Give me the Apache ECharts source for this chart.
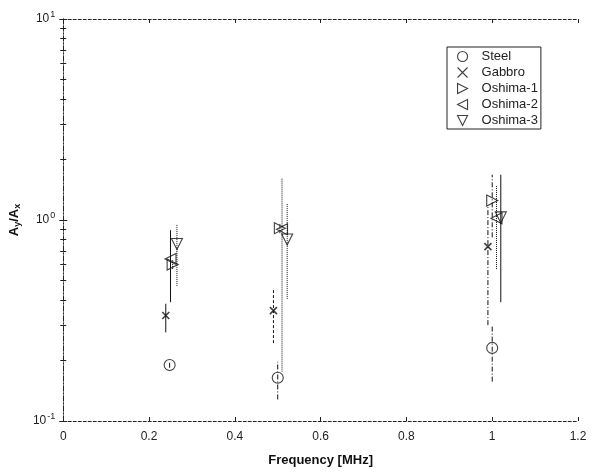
<!DOCTYPE html>
<html>
<head>
<meta charset="utf-8">
<script src="https://cdn.jsdelivr.net/npm/echarts@6/dist/echarts.min.js"></script>
<style>
  html, body { margin: 0; padding: 0; background: #fff; }
  #chart { width: 591px; height: 472px; }
</style>
</head>
<body>
<div id="chart"></div>
<script>
// values (x = frequency, y = Ay/Ax, lo/hi = error bar ends)
const seriesNames = ['Steel', 'Gabbro', 'Oshima-1', 'Oshima-2', 'Oshima-3'];

const steelX = [0.248, 0.50, 1.0];
const steelY = [0.19, 0.164, 0.231];
const steelLo = [0.184, 0.128, 0.157];
const steelHi = [0.197, 0.197, 0.30];

const gabbroX = [0.239, 0.49, 0.99];
const gabbroY = [0.335, 0.354, 0.737];
const gabbroLo = [0.276, 0.244, 0.30];
const gabbroHi = [0.383, 0.459, 1.18];

const oshima1X = [0.255, 0.505, 1.0];
const oshima1Y = [0.60, 0.91, 1.25];
const oshima1Lo = [0.57, 0.86, 0.82];
const oshima1Hi = [0.63, 0.96, 1.68];

const oshima2X = [0.25, 0.51, 1.01];
const oshima2Y = [0.64, 0.90, 1.02];
const oshima2Lo = [0.39, 0.176, 0.57];
const oshima2Hi = [0.89, 1.62, 1.48];

const oshima3X = [0.265, 0.522, 1.02];
const oshima3Y = [0.76, 0.80, 1.03];
const oshima3Lo = [0.47, 0.405, 0.39];
const oshima3Hi = [0.95, 1.20, 1.68];

const xTicks = [0, 0.2, 0.4, 0.6, 0.8, 1, 1.2];

// styling
const dashes = {
  solid: null,
  dashdot: [5, 2, 1, 2],
  dashed: [3, 2],
  dotted: [1, 1]
};
const errStyle = {
  'Steel': ['dashdot', 'dashdot', 'dashdot'],
  'Gabbro': ['solid', 'dashed', 'dashdot'],
  'Oshima-1': ['dotted', 'dotted', 'dashdot'],
  'Oshima-2': ['solid', 'dotted', 'dotted'],
  'Oshima-3': ['dotted', 'dotted', 'solid']
};
const symbols = {
  'Steel': 'circle',
  'Gabbro': 'path://M0,0L10,10M10,0L0,10',
  'Oshima-1': 'path://M0,0L10,5L0,10Z',
  'Oshima-2': 'path://M10,0L0,5L10,10Z',
  'Oshima-3': 'path://M0,0L10,0L5,10Z'
};

const groups = [
  [steelX, steelY, steelLo, steelHi],
  [gabbroX, gabbroY, gabbroLo, gabbroHi],
  [oshima1X, oshima1Y, oshima1Lo, oshima1Hi],
  [oshima2X, oshima2Y, oshima2Lo, oshima2Hi],
  [oshima3X, oshima3Y, oshima3Lo, oshima3Hi]
];

const chart = echarts.init(document.getElementById('chart'));

const series = [];
groups.forEach(([xs, ys, los, his], i) => {
  const name = seriesNames[i];
  series.push({
    type: 'custom',
    name: name + ' err',
    silent: true,
    clip: true,
    data: xs.map((x, k) => [x, los[k], his[k], k]),
    renderItem: (params, api) => {
      const p1 = api.coord([api.value(0), api.value(1)]);
      const p2 = api.coord([api.value(0), api.value(2)]);
      const kind = errStyle[name][api.value(3)];
      return {
        type: 'line',
        shape: { x1: p1[0], y1: p1[1], x2: p2[0], y2: p2[1] },
        style: { stroke: '#111', lineWidth: 1, lineDash: dashes[kind] }
      };
    },
    z: 2
  });
  series.push({
    type: 'scatter',
    name: name,
    symbol: symbols[name],
    symbolSize: name === 'Gabbro' ? 7 : 11,
    itemStyle: {
      color: 'rgba(255,255,255,0)',
      borderColor: '#111',
      borderWidth: name === 'Gabbro' ? 1.6 : 1.1
    },
    data: xs.map((x, k) => [x, ys[k]]),
    z: 3
  });
});

const fontFam = 'Liberation Sans, Arial, sans-serif';
const axisFont = { color: '#222', fontSize: 12, fontFamily: fontFam };
const frameLine = { show: true, lineStyle: { color: '#222', width: 1, type: [3, 2] } };
const frameLineY = { show: true, lineStyle: { color: '#222', width: 1, type: [5, 2, 1, 2] } };

chart.setOption({
  backgroundColor: '#fff',
  animation: false,
  grid: { left: 61, right: 13, top: 19, bottom: 45, containLabel: false },
  legend: {
    orient: 'vertical',
    left: 447,
    top: 47,
    data: seriesNames.map(n => ({ name: n, icon: symbols[n] })),
    itemWidth: 10,
    itemHeight: 10,
    itemGap: 3,
    padding: [3, 3, 2, 10],
    borderColor: '#222',
    borderWidth: 1,
    textStyle: { color: '#222', fontSize: 13, fontFamily: fontFam, padding: [0, 0, 0, 9] },
    itemStyle: { color: 'rgba(255,255,255,0)', borderColor: '#111', borderWidth: 1.1 },
    selectedMode: false
  },
  xAxis: [
    {
      type: 'value',
      min: 0,
      max: 1.2,
      interval: 0.2,
      position: 'bottom',
      name: 'Frequency [MHz]',
      nameLocation: 'middle',
      nameGap: 33,
      nameTextStyle: { color: '#111', fontSize: 13, fontWeight: 'bold', fontFamily: fontFam },
      axisLine: frameLine,
      axisTick: { show: true, inside: true, length: 4, lineStyle: { color: '#222' } },
      axisLabel: Object.assign({ margin: 10, formatter: v => String(xTicks.find(t => Math.abs(t - v) < 1e-9) ?? v) }, axisFont),
      splitLine: { show: false }
    },
    {
      type: 'value',
      min: 0,
      max: 1.2,
      interval: 0.2,
      position: 'top',
      axisLine: frameLine,
      axisTick: { show: true, inside: true, length: 4, lineStyle: { color: '#222' } },
      axisLabel: { show: false },
      splitLine: { show: false }
    }
  ],
  yAxis: [
    {
      type: 'log',
      logBase: 10,
      min: 0.1,
      max: 10,
      position: 'left',
      name: '{b|A}{s|y}{b|/A}{s|x}',
      nameLocation: 'middle',
      nameGap: 40,
      nameRotate: 90,
      nameTextStyle: {
        rich: {
          b: { fontSize: 13, fontWeight: 'bold', color: '#111', fontFamily: fontFam },
          s: { fontSize: 9, fontWeight: 'bold', color: '#111', verticalAlign: 'bottom', padding: [6, 0, 0, 0], fontFamily: fontFam }
        }
      },
      axisLine: frameLineY,
      axisTick: { show: true, inside: true, length: 4, lineStyle: { color: '#222' } },
      minorTick: { show: true, splitNumber: 9, length: 3, lineStyle: { color: '#222' } },
      axisLabel: {
        margin: 8,
        formatter: v => '{b|10}{e|' + Math.round(Math.log10(v)) + '}',
        rich: {
          b: { fontSize: 12, color: '#222', fontFamily: fontFam },
          e: { fontSize: 9, color: '#222', verticalAlign: 'top', padding: [0, 0, 8, 1], fontFamily: fontFam }
        }
      },
      splitLine: { show: false }
    },
    {
      type: 'log',
      logBase: 10,
      min: 0.1,
      max: 10,
      position: 'right',
      axisLine: frameLineY,
      axisTick: { show: true, inside: true, length: 4, lineStyle: { color: '#222' } },
      minorTick: { show: true, splitNumber: 9, length: 3, lineStyle: { color: '#222' } },
      axisLabel: { show: false },
      splitLine: { show: false }
    }
  ],
  series: series
});
</script>
</body>
</html>
